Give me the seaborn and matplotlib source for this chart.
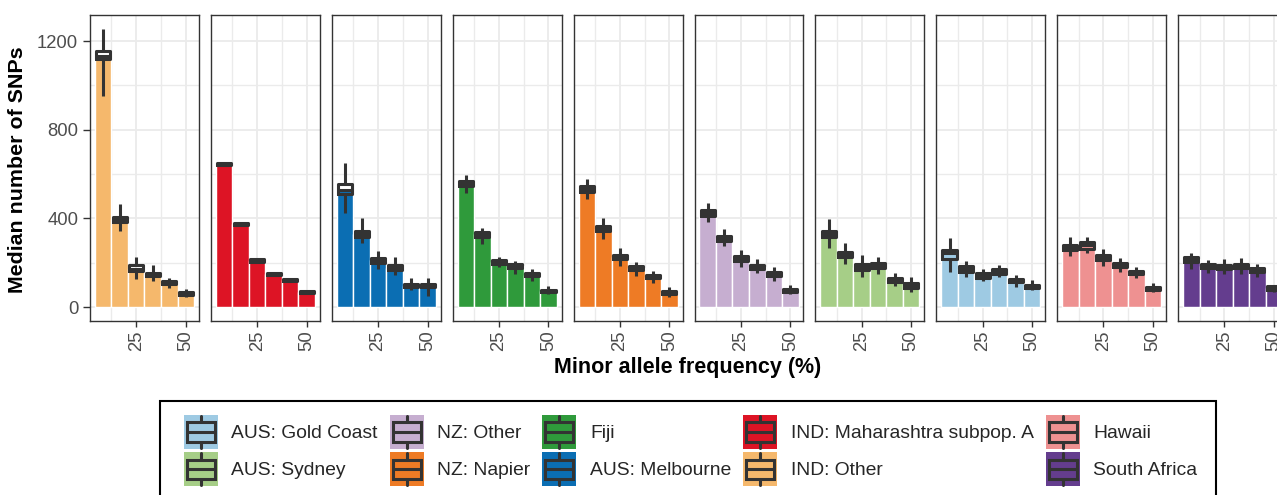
import numpy as np
import pandas as pd
import matplotlib
matplotlib.use("Agg")
import matplotlib.pyplot as plt
from matplotlib.patches import Rectangle, Patch
from matplotlib.lines import Line2D
from matplotlib.legend_handler import HandlerBase
import seaborn as sns

# Minor allele frequency bins (%), shared by every population
maf_bins = [8.33, 16.67, 25.0, 33.33, 41.67, 50.0]

# Per-population distribution of SNP counts in each MAF bin
# (whisker low, lower quartile, median, upper quartile, whisker high)
ind_other = dict(
    low=[952, 343, 125, 116, 84, 45],
    q1=[1118, 386, 162, 139, 103, 55],
    median=[1135, 397, 172, 147, 110, 61],
    q3=[1155, 408, 190, 155, 116, 67],
    high=[1254, 465, 227, 189, 129, 81],
)
ind_maharashtra = dict(
    low=[640, 368, 203, 143, 116, 62],
    q1=[641, 369, 204, 144, 117, 63],
    median=[646, 375, 210, 149, 122, 68],
    q3=[651, 381, 216, 154, 128, 74],
    high=[652, 382, 217, 155, 129, 75],
)
aus_melbourne = dict(
    low=[425, 287, 170, 143, 75, 51],
    q1=[509, 318, 201, 166, 90, 90],
    median=[528, 331, 212, 177, 96, 98],
    q3=[556, 343, 222, 189, 103, 106],
    high=[648, 400, 251, 226, 131, 129],
)
fiji = dict(
    low=[513, 283, 179, 149, 119, 59],
    q1=[547, 318, 195, 174, 138, 66],
    median=[558, 329, 203, 183, 146, 72],
    q3=[569, 340, 211, 193, 154, 79],
    high=[595, 358, 227, 209, 170, 96],
)
nz_napier = dict(
    low=[486, 308, 186, 140, 110, 47],
    q1=[520, 342, 215, 168, 129, 60],
    median=[534, 353, 224, 177, 137, 66],
    q3=[548, 364, 234, 185, 145, 73],
    high=[579, 400, 266, 204, 164, 92],
)
nz_other = dict(
    low=[382, 275, 179, 152, 116, 57],
    q1=[411, 299, 209, 171, 139, 69],
    median=[424, 310, 220, 180, 148, 75],
    q3=[437, 321, 231, 190, 157, 82],
    high=[468, 350, 257, 215, 182, 101],
)
aus_sydney = dict(
    low=[265, 194, 134, 147, 96, 66],
    q1=[314, 226, 166, 174, 111, 88],
    median=[331, 238, 180, 186, 120, 99],
    q3=[343, 250, 193, 198, 130, 110],
    high=[397, 287, 235, 227, 152, 134],
)
aus_gold_coast = dict(
    low=[159, 134, 119, 134, 92, 77],
    q1=[216, 159, 133, 151, 111, 87],
    median=[242, 171, 143, 161, 118, 93],
    q3=[256, 184, 152, 171, 125, 100],
    high=[310, 209, 173, 191, 146, 122],
)
hawaii = dict(
    low=[230, 242, 184, 159, 129, 69],
    q1=[257, 264, 213, 181, 148, 79],
    median=[268, 278, 225, 190, 156, 86],
    q3=[280, 292, 236, 200, 163, 92],
    high=[314, 317, 260, 220, 182, 110],
)
south_africa = dict(
    low=[170, 155, 149, 147, 137, 70],
    q1=[204, 174, 171, 174, 159, 78],
    median=[215, 185, 180, 185, 167, 86],
    q3=[226, 196, 190, 196, 175, 94],
    high=[242, 212, 217, 220, 193, 100],
)

# Facet order, left to right
panels = [
    ("IND: Other", ind_other),
    ("IND: Maharashtra subpop. A", ind_maharashtra),
    ("AUS: Melbourne", aus_melbourne),
    ("Fiji", fiji),
    ("NZ: Napier", nz_napier),
    ("NZ: Other", nz_other),
    ("AUS: Sydney", aus_sydney),
    ("AUS: Gold Coast", aus_gold_coast),
    ("Hawaii", hawaii),
    ("South Africa", south_africa),
]

# Legend order (filled column by column)
legend_order = [
    "AUS: Gold Coast", "AUS: Sydney",
    "NZ: Other", "NZ: Napier",
    "Fiji", "AUS: Melbourne",
    "IND: Maharashtra subpop. A", "IND: Other",
    "Hawaii", "South Africa",
]

pop_colors = {
    "AUS: Gold Coast": "#9ECAE3",
    "AUS: Melbourne": "#0B6EB3",
    "AUS: Sydney": "#A6CE87",
    "Fiji": "#2F9A3B",
    "Hawaii": "#EE9191",
    "IND: Maharashtra subpop. A": "#DD1425",
    "IND: Other": "#F5B86C",
    "NZ: Napier": "#EE7B25",
    "NZ: Other": "#C6AED0",
    "South Africa": "#643D8E",
}

sns.set_theme(style="white")
plt.rcParams["font.family"] = ["Liberation Sans", "DejaVu Sans"]

W, H = 1277, 495
fig = plt.figure(figsize=(W / 100, H / 100), dpi=100)

DARK = "#333333"
GRID = "#EBEBEB"
TICK_TXT = "#4D4D4D"

panel_left, panel_step, panel_w = 90, 120.9, 109
panel_top, panel_bottom = 15, 321

for i, (name, stats) in enumerate(panels):
    left = panel_left + panel_step * i
    ax = fig.add_axes([left / W, 1 - panel_bottom / H, panel_w / W,
                       (panel_bottom - panel_top) / H])

    bar_df = pd.DataFrame({"maf": maf_bins, "snps": stats["median"]})
    sns.barplot(data=bar_df, x="maf", y="snps", native_scale=True, width=1.0,
                color=pop_colors[name], saturation=1, edgecolor="white",
                linewidth=1.0, errorbar=None, ax=ax, zorder=2)

    rows = []
    for k, m in enumerate(maf_bins):
        for key in ("low", "q1", "median", "q3", "high"):
            rows.append({"maf": m, "snps": stats[key][k]})
    box_df = pd.DataFrame(rows)
    sns.boxplot(data=box_df, x="maf", y="snps", native_scale=True, width=0.85,
                fill=False, color=DARK, linewidth=2.2, whis=(0, 100),
                showcaps=False, showfliers=False, ax=ax, zorder=3)

    ax.set_xlim(1.667, 56.667)
    ax.set_ylim(-63, 1318)
    ax.set_xticks([25, 50])
    ax.set_xticklabels(["25", "50"])
    ax.set_xticks([12.5, 37.5], minor=True)
    ax.set_yticks([0, 400, 800, 1200])
    ax.set_yticklabels(["0", "400", "800", "1200"])
    ax.set_yticks([200, 600, 1000], minor=True)
    ax.set_axisbelow(True)
    ax.grid(which="major", color=GRID, linewidth=1.3)
    ax.grid(which="minor", color=GRID, linewidth=1.0)
    ax.set_xlabel("")
    ax.set_ylabel("")
    for sp in ax.spines.values():
        sp.set_color(DARK)
        sp.set_linewidth(1.0)
        sp.set_visible(True)
    ax.tick_params(which="minor", length=0)
    ax.tick_params(axis="x", which="major", bottom=True, length=4.5, width=1.0,
                   color=DARK, labelsize=13.3, labelcolor=TICK_TXT,
                   labelrotation=90, pad=2.5)
    if i == 0:
        ax.tick_params(axis="y", which="major", left=True, length=5,
                       width=1.0, color=DARK, labelsize=13.3,
                       labelcolor=TICK_TXT, pad=3.5)
    else:
        ax.tick_params(axis="y", which="both", left=False, labelleft=False)

# Axis titles shared by the row of facets
fig.text(18 / W, 1 - 170 / H, "Median number of SNPs", rotation=90,
         ha="center", va="center", fontsize=15.4, fontweight="bold",
         color="black")
fig.text(688 / W, 1 - 367 / H, "Minor allele frequency (%)", ha="center",
         va="center", fontsize=15.5, fontweight="bold", color="black")


class BoxKey(HandlerBase):
    """Legend key: filled square with a small boxplot glyph on top."""

    def create_artists(self, legend, orig_handle, xdescent, ydescent,
                       width, height, fontsize, trans):
        x0, y0 = -xdescent, -ydescent
        face = Rectangle((x0, y0), width, height,
                         facecolor=orig_handle.get_facecolor(),
                         edgecolor="none", transform=trans)
        bx0, bx1 = x0 + 0.09 * width, x0 + 0.91 * width
        by0, by1 = y0 + 0.21 * height, y0 + 0.79 * height
        ym = y0 + 0.5 * height
        xm = x0 + 0.5 * width
        lw = 2.2
        box = Rectangle((bx0, by0), bx1 - bx0, by1 - by0, facecolor="none",
                        edgecolor=DARK, linewidth=lw, transform=trans)
        med = Line2D([bx0, bx1], [ym, ym], color=DARK, linewidth=lw,
                     transform=trans)
        w_top = Line2D([xm, xm], [by1, y0 + 0.97 * height], color=DARK,
                       linewidth=lw, transform=trans)
        w_bot = Line2D([xm, xm], [y0 + 0.03 * height, by0], color=DARK,
                       linewidth=lw, transform=trans)
        return [face, box, med, w_top, w_bot]


handles = [Patch(facecolor=pop_colors[n]) for n in legend_order]
fs = 13.9
fig.legend(handles, legend_order, handler_map={Patch: BoxKey()},
           loc="upper left", bbox_to_anchor=(184 / W, 1 - 415 / H),
           bbox_transform=fig.transFigure, ncol=5, frameon=False,
           fontsize=fs, borderpad=0, handlelength=1.76, handleheight=2.33,
           handletextpad=0.70, columnspacing=0.62, labelspacing=0.18,
           borderaxespad=0)

# Legend frame
fig.patches.append(Rectangle((160 / W, -0.1), (1216 - 160) / W,
                             0.1 + (1 - 401 / H), transform=fig.transFigure,
                             fill=False, edgecolor="black", linewidth=1.5))

fig.savefig("out.png", dpi=100)
